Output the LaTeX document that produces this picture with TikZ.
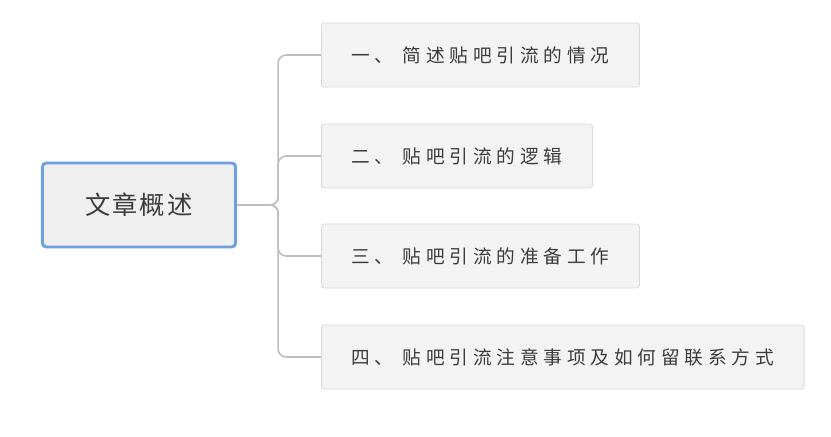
\documentclass[tikz,border=0pt]{standalone}
\usepackage{fontspec}
\setmainfont{Noto Sans CJK SC}
\newfontfamily\topicfont[LetterSpace=26]{Noto Sans CJK SC}
\newfontfamily\rootfont[LetterSpace=8]{Noto Sans CJK SC}
\definecolor{rootFill}{RGB}{239,239,239}
\definecolor{rootLine}{RGB}{110,160,225}
\definecolor{topicFill}{RGB}{243,243,243}
\definecolor{topicLine}{RGB}{218,218,218}
\definecolor{linkColor}{RGB}{190,190,190}
\definecolor{textColor}{RGB}{60,60,60}
\tikzset{
  rootbox/.style={draw=rootLine, line width=2.2pt, fill=rootFill, rounded corners=3pt,
    minimum width=145pt, minimum height=63pt, text=textColor, font=\rootfont\fontsize{19}{22}\selectfont},
  topicbox/.style={draw=topicLine, line width=0.6pt, fill=topicFill, rounded corners=2pt,
    anchor=west, minimum height=48pt, inner xsep=22.5pt, text=textColor,
    font=\topicfont\fontsize{14}{17}\selectfont},
  link/.style={draw=linkColor, line width=1.2pt, rounded corners=6pt}
}
\begin{document}
\begin{tikzpicture}[x=0.75pt,y=-0.75pt]
  \useasboundingbox[fill=white] (0,0) rectangle (831,436);
  \node[rootbox] (root) at (139,205) {文章概述};
  % Topics
  \node[topicbox] (t1) at (321,55) {一、 简述贴吧引流的情况};
  \node[topicbox] (t2) at (321,156) {二、 贴吧引流的逻辑};
  \node[topicbox] (t3) at (321,256) {三、 贴吧引流的准备工作};
  \node[topicbox] (t4) at (321,357) {四、 贴吧引流注意事项及如何留联系方式};
  % Links
  \foreach \t in {t1,t2,t3,t4}
    \draw[link] (root.east) -- ++(41,0) |- (\t.west);
\end{tikzpicture}
\end{document}
